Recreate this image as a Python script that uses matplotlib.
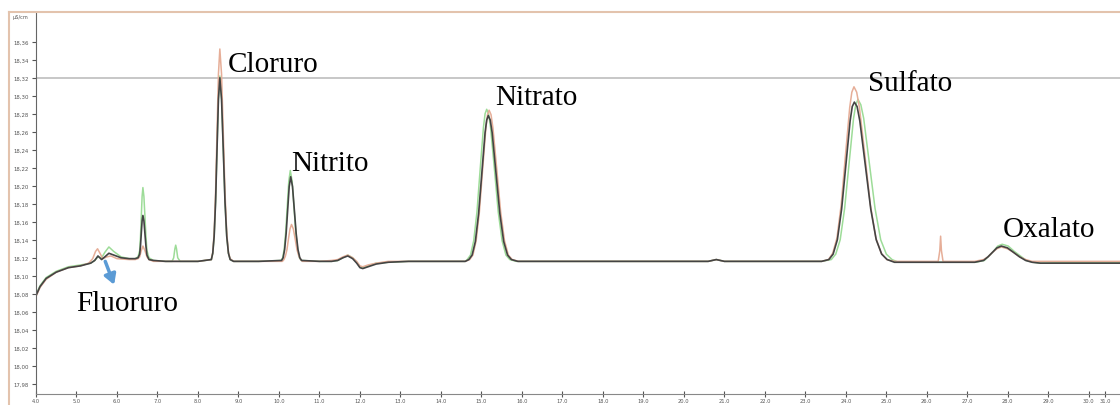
import numpy as np
import matplotlib.pyplot as plt
from matplotlib.lines import Line2D

# Chromatogram traces: (retention time [min], signal [µS/cm])
dark = [
    (4.0, 18.078), (4.1, 18.088), (4.25, 18.097), (4.5, 18.104), (4.8, 18.109), (5.1, 18.111),
    (5.35, 18.114), (5.45, 18.117), (5.53, 18.122), (5.62, 18.118), (5.70, 18.121), (5.80, 18.125),
    (5.92, 18.123), (6.10, 18.120), (6.30, 18.119), (6.45, 18.119),
    (6.52, 18.120), (6.56, 18.124), (6.58, 18.133), (6.60, 18.147), (6.62, 18.161), (6.64, 18.167),
    (6.665, 18.161), (6.69, 18.147), (6.715, 18.133), (6.74, 18.123), (6.79, 18.118), (6.9, 18.117),
    (7.2, 18.116), (8.0, 18.116), (8.33, 18.118),
    (8.365, 18.125), (8.40, 18.144), (8.435, 18.182), (8.47, 18.240), (8.505, 18.296), (8.54, 18.320),
    (8.5825, 18.296), (8.625, 18.240), (8.6675, 18.182), (8.71, 18.144), (8.7525, 18.125),
    (8.795, 18.118), (8.88, 18.116), (9.5, 18.116),
    (10.065, 18.117), (10.1025, 18.120), (10.14, 18.129), (10.1775, 18.147), (10.215, 18.173),
    (10.2525, 18.199), (10.29, 18.210), (10.335, 18.199), (10.38, 18.173), (10.425, 18.147),
    (10.47, 18.129), (10.515, 18.120), (10.56, 18.117),
    (11.0, 18.116), (11.3, 18.116), (11.45, 18.117), (11.58, 18.120), (11.70, 18.122), (11.82, 18.119),
    (11.92, 18.114), (12.0, 18.109), (12.07, 18.108), (12.2, 18.110), (12.4, 18.113), (12.7, 18.115),
    (13.2, 18.116), (14.6, 18.116),
    (14.69, 18.118), (14.77, 18.123), (14.85, 18.138), (14.93, 18.169), (15.01, 18.214), (15.09, 18.259),
    (15.13, 18.273), (15.17, 18.278), (15.2175, 18.273), (15.265, 18.259), (15.36, 18.214),
    (15.455, 18.169), (15.55, 18.138), (15.645, 18.123), (15.74, 18.118), (15.9, 18.116),
    (18.0, 18.116), (20.6, 18.116), (20.8, 18.118), (21.0, 18.116), (23.4, 18.116),
    (23.58, 18.118), (23.685, 18.124), (23.79, 18.140), (23.895, 18.174), (24.00, 18.223),
    (24.105, 18.272), (24.1575, 18.288), (24.21, 18.293), (24.2775, 18.288), (24.345, 18.272),
    (24.48, 18.223), (24.615, 18.174), (24.75, 18.140), (24.885, 18.124), (25.02, 18.118), (25.2, 18.115),
    (26.0, 18.115), (27.18, 18.115), (27.40, 18.117), (27.51, 18.121), (27.62, 18.126), (27.73, 18.131),
    (27.84, 18.133), (27.99, 18.131), (28.14, 18.126), (28.29, 18.121), (28.44, 18.117), (28.6, 18.115),
    (28.8, 18.114), (29.6, 18.114), (30.8, 18.114),
]

green = [
    (4.0, 18.079), (4.1, 18.089), (4.25, 18.098), (4.5, 18.105), (4.8, 18.110), (5.1, 18.112),
    (5.35, 18.114), (5.45, 18.117), (5.53, 18.121), (5.62, 18.120), (5.70, 18.126), (5.80, 18.132),
    (5.92, 18.127), (6.10, 18.121), (6.30, 18.119), (6.45, 18.119),
    (6.52, 18.121), (6.56, 18.128), (6.58, 18.143), (6.60, 18.165), (6.62, 18.188), (6.64, 18.198),
    (6.665, 18.188), (6.69, 18.166), (6.715, 18.144), (6.74, 18.128), (6.79, 18.120), (6.9, 18.117),
    (7.2, 18.116), (7.36, 18.116), (7.40, 18.120), (7.43, 18.130), (7.45, 18.134), (7.47, 18.130),
    (7.50, 18.120), (7.56, 18.116), (8.0, 18.116), (8.33, 18.118),
    (8.365, 18.125), (8.40, 18.144), (8.435, 18.183), (8.47, 18.241), (8.505, 18.298), (8.54, 18.322),
    (8.5825, 18.298), (8.625, 18.241), (8.6675, 18.183), (8.71, 18.144), (8.7525, 18.125),
    (8.795, 18.118), (8.88, 18.116), (9.5, 18.116),
    (10.055, 18.117), (10.0925, 18.120), (10.13, 18.130), (10.1675, 18.149), (10.205, 18.177),
    (10.2425, 18.205), (10.28, 18.217), (10.325, 18.205), (10.37, 18.177), (10.415, 18.149),
    (10.46, 18.130), (10.505, 18.120), (10.55, 18.117),
    (11.0, 18.116), (11.3, 18.116), (11.45, 18.117), (11.58, 18.120), (11.70, 18.123), (11.82, 18.120),
    (11.92, 18.115), (12.0, 18.110), (12.07, 18.109), (12.2, 18.111), (12.4, 18.114), (12.7, 18.115),
    (13.2, 18.116), (14.6, 18.116),
    (14.65, 18.118), (14.73, 18.123), (14.81, 18.139), (14.89, 18.171), (14.97, 18.219), (15.05, 18.265),
    (15.09, 18.280), (15.13, 18.285), (15.1775, 18.280), (15.225, 18.265), (15.32, 18.219),
    (15.415, 18.171), (15.51, 18.139), (15.605, 18.123), (15.70, 18.118), (15.86, 18.116),
    (18.0, 18.116), (20.6, 18.116), (20.8, 18.118), (21.0, 18.116), (23.4, 18.116),
    (23.64, 18.118), (23.75, 18.124), (23.86, 18.140), (23.97, 18.175), (24.08, 18.225), (24.19, 18.275),
    (24.245, 18.290), (24.30, 18.296), (24.37, 18.290), (24.44, 18.275), (24.58, 18.225), (24.72, 18.175),
    (24.86, 18.140), (25.00, 18.124), (25.14, 18.118), (25.3, 18.115),
    (26.0, 18.115), (27.20, 18.115), (27.42, 18.117), (27.53, 18.122), (27.64, 18.127), (27.75, 18.133),
    (27.86, 18.135), (28.01, 18.133), (28.16, 18.127), (28.31, 18.122), (28.46, 18.117), (28.62, 18.115),
    (28.82, 18.114), (29.6, 18.115), (30.8, 18.115),
]

tan = [
    (4.0, 18.077), (4.1, 18.087), (4.25, 18.096), (4.5, 18.104), (4.8, 18.109), (5.1, 18.111),
    (5.30, 18.114), (5.40, 18.119), (5.47, 18.127), (5.52, 18.130), (5.58, 18.125), (5.65, 18.119),
    (5.75, 18.121), (5.85, 18.122), (6.0, 18.119), (6.3, 18.118), (6.45, 18.118),
    (6.52, 18.119), (6.56, 18.121), (6.60, 18.128), (6.64, 18.133), (6.69, 18.128), (6.74, 18.121),
    (6.79, 18.118), (6.9, 18.116), (7.2, 18.116), (8.0, 18.116), (8.33, 18.118),
    (8.365, 18.126), (8.40, 18.148), (8.435, 18.193), (8.47, 18.259), (8.505, 18.324), (8.54, 18.352),
    (8.5825, 18.324), (8.625, 18.259), (8.6675, 18.193), (8.71, 18.148), (8.7525, 18.126),
    (8.795, 18.119), (8.88, 18.116), (9.5, 18.116),
    (10.085, 18.116), (10.1225, 18.118), (10.16, 18.122), (10.1975, 18.129), (10.235, 18.141),
    (10.2725, 18.152), (10.31, 18.157), (10.355, 18.152), (10.40, 18.141), (10.445, 18.129),
    (10.49, 18.122), (10.535, 18.118), (10.58, 18.116),
    (11.0, 18.116), (11.3, 18.117), (11.45, 18.118), (11.58, 18.121), (11.70, 18.123), (11.82, 18.120),
    (11.92, 18.116), (12.0, 18.111), (12.07, 18.110), (12.2, 18.112), (12.4, 18.114), (12.7, 18.116),
    (13.2, 18.116), (14.6, 18.116),
    (14.71, 18.118), (14.79, 18.123), (14.87, 18.139), (14.95, 18.171), (15.03, 18.218), (15.11, 18.264),
    (15.15, 18.279), (15.19, 18.284), (15.2375, 18.279), (15.285, 18.264), (15.38, 18.218),
    (15.475, 18.171), (15.57, 18.139), (15.665, 18.123), (15.76, 18.118), (15.92, 18.116),
    (18.0, 18.116), (20.6, 18.116), (20.8, 18.118), (21.0, 18.116), (23.4, 18.116),
    (23.57, 18.118), (23.675, 18.125), (23.78, 18.142), (23.885, 18.179), (23.99, 18.234),
    (24.095, 18.287), (24.1475, 18.304), (24.20, 18.310), (24.2675, 18.304), (24.335, 18.287),
    (24.47, 18.234), (24.605, 18.179), (24.74, 18.142), (24.875, 18.125), (25.01, 18.118), (25.2, 18.116),
    (26.0, 18.116), (26.28, 18.116), (26.32, 18.128), (26.34, 18.144), (26.36, 18.128), (26.40, 18.116),
    (27.18, 18.116), (27.40, 18.118), (27.51, 18.121), (27.62, 18.126), (27.73, 18.130), (27.84, 18.132),
    (27.99, 18.130), (28.14, 18.126), (28.29, 18.121), (28.44, 18.118), (28.6, 18.116), (28.8, 18.116),
    (29.6, 18.116), (30.8, 18.116),
]

# peak names and where their labels sit
peak_names = ["Fluoruro", "Cloruro", "Nitrito", "Nitrato", "Sulfato", "Oxalato"]
label_t = [4.99, 8.74, 10.31, 15.33, 24.54, 27.88]
label_v = [18.062, 18.328, 18.217, 18.291, 18.306, 18.144]

y_ticks = np.round(np.arange(17.98, 18.361, 0.02), 2)
x_ticks = list(range(4, 31)) + [30.4]
x_labels = [f"{t:.1f}" for t in range(4, 31)] + ["31.0"]

fig = plt.figure(figsize=(11.2, 4.06), dpi=100)
ax = fig.add_axes([36 / 1120, 11 / 406, 1 - 36 / 1120, 1 - 25 / 406])

colors = {"green": "#9ddc98", "tan": "#e6ae98", "dark": "#444444"}
for name, trace, lw in [("green", green, 1.1), ("tan", tan, 1.1), ("dark", dark, 1.2)]:
    t, v = zip(*trace)
    ax.plot(t, v, color=colors[name], lw=lw, solid_joinstyle="round")

ax.axhline(18.32, color="#bdbdbd", lw=1.2, zorder=0)

for name, t, v in zip(peak_names, label_t, label_v):
    ax.text(t, v, name, family="Liberation Serif", fontsize=21, ha="left", va="baseline")

ax.annotate("", xy=(5.93, 18.090), xytext=(5.71, 18.116),
            arrowprops=dict(arrowstyle="-|>,head_width=0.35,head_length=0.6", lw=2.5,
                            color="#5b9bd5", shrinkA=0, shrinkB=0))

ax.set_xlim(4.0, 30.77)
ax.set_ylim(17.9686, 18.392)

ax.set_yticks(y_ticks)
ax.set_yticklabels([f"{y:.2f}".replace(".", ",") for y in y_ticks])
ax.set_xticks(x_ticks)
ax.set_xticklabels(x_labels)
ax.tick_params(axis="y", direction="out", length=3, width=0.8, pad=2, labelsize=3.9,
               colors="#555555")
ax.tick_params(axis="x", direction="inout", length=4, width=0.8, pad=1, labelsize=3.7,
               colors="#555555")

for s in ["top", "right"]:
    ax.spines[s].set_visible(False)
ax.spines["left"].set_color("#666666")
ax.spines["bottom"].set_color("#888888")

fig.text(13 / 1120, 1 - 18 / 406, "µS/cm", fontsize=3.6, color="#555555", va="center")

# outer window frame
fig.add_artist(Line2D([9 / 1120, 9 / 1120], [0, 1 - 13 / 406], color="#e3c3ad", lw=1.5))
fig.add_artist(Line2D([9 / 1120, 1], [1 - 13 / 406, 1 - 13 / 406], color="#e3c3ad", lw=1.5))

fig.savefig("out.png", dpi=100, facecolor="white")
